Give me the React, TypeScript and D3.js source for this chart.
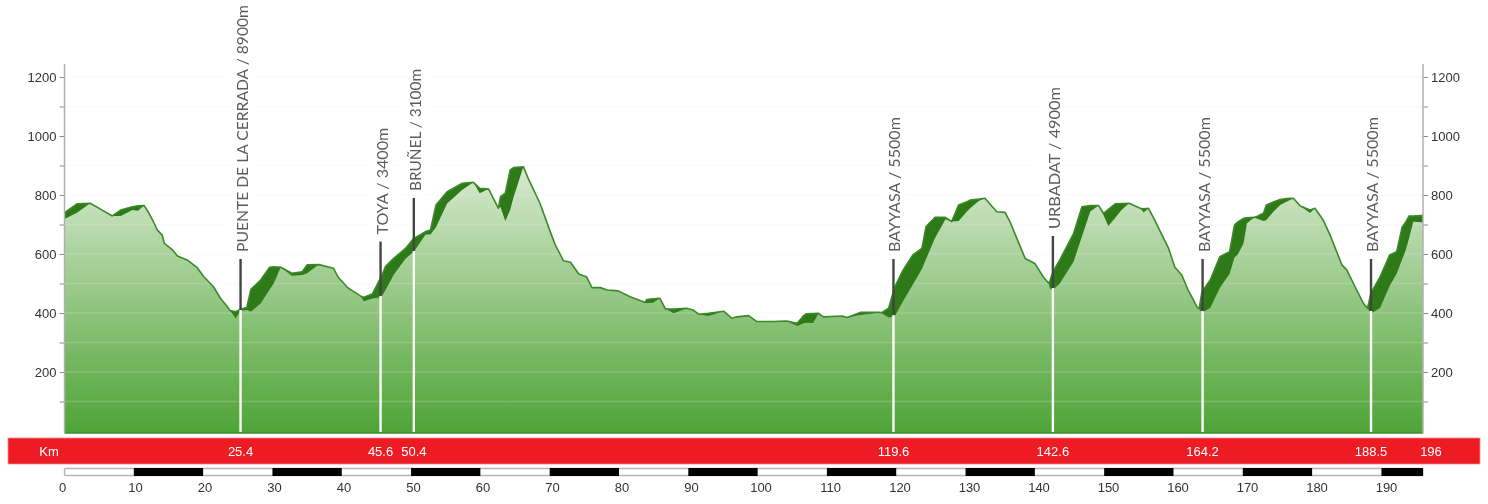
import React, { useEffect, useRef } from 'react';
import * as d3 from 'd3';

// profile: km, elevation (m), depth of the dark climb band (m)
const profileKm = [0, 1.8, 3.7, 5.2, 6.9, 8.1, 9.8, 10.6, 11.5, 12.2, 12.9, 13.4, 14.1, 14.4, 15.5, 16.3, 17.7, 19.1, 20.1, 21.5, 22.5, 23.5, 23.9, 24.7, 25.4, 26.3, 26.9, 28.3, 29.6, 30.2, 31.2, 32.8, 34.3, 35.0, 36.7, 38.8, 39.5, 40.8, 42.7, 43.2, 44.4, 45.7, 46.3, 47.5, 49.2, 50.4, 52.1, 52.8, 53.6, 55.2, 57.4, 59.0, 59.9, 61.2, 62.6, 62.9, 63.6, 64.3, 64.8, 66.2, 67.0, 68.6, 70.0, 70.8, 72.0, 73.0, 74.2, 75.3, 76.1, 77.3, 78.3, 79.9, 81.6, 83.8, 84.0, 84.9, 85.9, 86.7, 87.9, 89.8, 90.7, 91.5, 92.9, 95.1, 96.3, 97.0, 98.7, 99.9, 102.3, 104.2, 105.7, 106.6, 107.0, 108.0, 108.8, 109.5, 112.2, 112.9, 114.8, 117.7, 117.9, 118.9, 119.8, 121.0, 122.4, 123.7, 124.3, 125.6, 127.1, 128.0, 129.0, 130.2, 130.7, 131.9, 132.8, 134.5, 135.7, 136.4, 137.4, 138.6, 140.0, 141.2, 142.0, 142.2, 142.6, 143.6, 145.6, 146.8, 148.0, 149.2, 149.9, 150.6, 151.6, 152.5, 153.6, 155.2, 155.7, 156.4, 157.3, 158.1, 159.3, 160.2, 161.2, 162.1, 163.4, 163.7, 164.1, 165.3, 166.7, 168.1, 168.8, 169.3, 170.1, 170.6, 171.6, 172.2, 173.0, 173.4, 174.4, 175.4, 176.3, 177.3, 178.3, 179.7, 180.4, 181.6, 182.6, 184.3, 185.0, 186.2, 187.4, 188.0, 188.5, 189.8, 191.2, 192.2, 193.0, 193.5, 194.0, 194.6, 196];
const elevation = [740, 770, 772, 752, 729, 749, 760, 763, 764, 738, 706, 681, 664, 636, 616, 593, 580, 555, 523, 489, 450, 421, 408, 404, 413, 419, 480, 512, 555, 557, 555, 535, 540, 563, 564, 552, 521, 487, 458, 453, 464, 523, 557, 585, 619, 653, 676, 681, 766, 811, 840, 843, 823, 820, 755, 794, 806, 885, 893, 896, 851, 772, 681, 631, 577, 572, 532, 523, 486, 486, 478, 475, 455, 436, 446, 448, 450, 414, 413, 416, 410, 396, 399, 406, 382, 387, 391, 371, 371, 373, 365, 390, 397, 398, 399, 387, 390, 385, 402, 402, 401, 416, 489, 546, 597, 619, 693, 724, 724, 710, 766, 777, 783, 786, 789, 743, 741, 710, 653, 585, 568, 523, 501, 511, 539, 580, 670, 760, 764, 764, 738, 751, 770, 771, 772, 755, 753, 755, 715, 676, 619, 555, 529, 478, 421, 414, 471, 512, 591, 608, 698, 709, 721, 723, 724, 729, 739, 766, 776, 785, 788, 789, 763, 749, 755, 715, 664, 563, 546, 489, 433, 416, 468, 522, 597, 608, 692, 708, 729, 729, 731];
const bandDepth = [21, 30, 0, 0, 0, 20, 11, 16, 0, 0, 0, 0, 0, 0, 0, 0, 0, 0, 0, 0, 0, 0, 0, 22, 5, 9, 75, 80, 75, 56, 0, 9, 11, 28, 0, 0, 0, 0, 0, 13, 15, 70, 80, 55, 35, 45, 10, 15, 75, 40, 22, 0, 17, 0, 0, 35, 94, 136, 100, 0, 0, 0, 0, 0, 0, 0, 0, 0, 0, 0, 0, 0, 0, 0, 12, 13, 0, 0, 14, 0, 0, 0, 9, 0, 0, 0, 0, 0, 0, 0, 9, 25, 30, 32, 0, 0, 0, 0, 9, 0, 2, 31, 100, 105, 100, 70, 110, 70, 6, 0, 54, 33, 27, 6, 0, 0, 0, 0, 0, 0, 0, 0, 0, 30, 60, 80, 95, 100, 20, 0, 6, 56, 47, 22, 0, 0, 12, 0, 0, 0, 0, 0, 0, 0, 0, 0, 70, 95, 105, 75, 110, 110, 85, 19, 0, 10, 27, 51, 33, 19, 11, 0, 0, 10, 0, 0, 0, 0, 0, 0, 0, 0, 70, 105, 105, 75, 110, 95, 75, 20, 23];

const markerKm = [25.4, 45.6, 50.4, 119.6, 142.6, 164.2, 188.5];
const markerNames = ['PUENTE DE LA CERRADA / 8900m', 'TOYA / 3400m', 'BRUÑEL / 3100m', 'BAYYASA / 5500m', 'URBADAT / 4900m', 'BAYYASA / 5500m', 'BAYYASA / 5500m'];
const markerTop = [583, 642, 790, 583, 661, 583, 583];
const markerBase = [410, 458, 610, 393, 485, 407, 407];
const markerTextLength = [247, 107, 122, 135, 142, 135, 135];

const yTicks = [100, 200, 300, 400, 500, 600, 700, 800, 900, 1000, 1100, 1200];
const kmTicks = [0, 10, 20, 30, 40, 50, 60, 70, 80, 90, 100, 110, 120, 130, 140, 150, 160, 170, 180, 190];
const blackStretches = [[10, 20], [30, 40], [50, 60], [70, 80], [90, 100], [110, 120], [130, 140], [150, 160], [170, 180], [190, 196]];
const totalKm = 196;

const App = () => {
  const svgRef = useRef<SVGSVGElement | null>(null);

  useEffect(() => {
    if (!svgRef.current) return;
    const svg = d3.select(svgRef.current);
    svg.selectAll('*').remove();

    const plotTop = 64;
    const plotBottom = 433;
    const x = d3.scaleLinear().domain([0, totalKm]).range([64.5, 1423]);
    const y = d3.scaleLinear().domain([0, 1200]).range([431, 77]);
    const points = profileKm.map((km, i) => ({ km, ele: elevation[i], depth: bandDepth[i] }));

    const defs = svg.append('defs');
    const grad = defs.append('linearGradient')
      .attr('id', 'fillGrad')
      .attr('gradientUnits', 'userSpaceOnUse')
      .attr('x1', 0).attr('x2', 0)
      .attr('y1', 165).attr('y2', plotBottom);
    grad.append('stop').attr('offset', '0%').attr('stop-color', '#d9ead1');
    grad.append('stop').attr('offset', '100%').attr('stop-color', '#4ea436');

    // area under the profile
    const area = d3.area<any>().x(d => x(d.km)).y0(plotBottom).y1(d => y(d.ele));
    svg.append('path').datum(points).attr('d', area).attr('fill', 'url(#fillGrad)');

    // faint grid, shows as light stripes over the fill
    svg.append('g').selectAll('line').data(yTicks).enter().append('line')
      .attr('x1', x(0)).attr('x2', x(totalKm))
      .attr('y1', d => y(d)).attr('y2', d => y(d))
      .attr('stroke', '#eeeeee').attr('stroke-opacity', 0.22).attr('stroke-width', 1.5);

    // dark climb band under the profile line
    const band = d3.area<any>().x(d => x(d.km)).y0(d => y(d.ele - d.depth)).y1(d => y(d.ele));
    svg.append('path').datum(points).attr('d', band).attr('fill', '#2e7a18');

    const line = d3.line<any>().x(d => x(d.km)).y(d => y(d.ele));
    svg.append('path').datum(points).attr('d', line)
      .attr('fill', 'none').attr('stroke', '#3b8a2a').attr('stroke-width', 1.6).attr('stroke-linejoin', 'round');

    svg.append('line')
      .attr('x1', x(0)).attr('x2', x(totalKm))
      .attr('y1', plotBottom).attr('y2', plotBottom)
      .attr('stroke', '#3f8f2c').attr('stroke-width', 1.5);

    // axes on both sides
    const fmt = (d: any) => (d % 200 === 0 ? String(d) : '');
    const leftAxis = svg.append('g').attr('transform', `translate(${x(0)},0)`)
      .call(d3.axisLeft(y).tickValues(yTicks).tickSize(5).tickPadding(3).tickFormat(fmt) as any);
    const rightAxis = svg.append('g').attr('transform', `translate(${x(totalKm)},0)`)
      .call(d3.axisRight(y).tickValues(yTicks).tickSize(5).tickPadding(3).tickFormat(fmt) as any);
    [leftAxis, rightAxis].forEach(a => {
      a.select('.domain').remove();
      a.selectAll('.tick line').attr('stroke', '#8a8a8a');
      a.selectAll('text').attr('font-family', '"Liberation Sans", Arial, sans-serif').attr('font-size', 13).attr('fill', '#333');
      a.append('line').attr('y1', plotTop).attr('y2', plotBottom).attr('stroke', '#b0b0b0').attr('stroke-width', 1.5);
    });

    // markers
    const markers = markerKm.map((km, i) => ({ km, name: markerNames[i], top: markerTop[i], base: markerBase[i], len: markerTextLength[i] }));
    const m = svg.append('g');
    m.selectAll('.stem').data(markers).enter().append('line')
      .attr('x1', d => x(d.km)).attr('x2', d => x(d.km))
      .attr('y1', plotBottom - 1).attr('y2', d => y(d.base))
      .attr('stroke', '#fff').attr('stroke-width', 2.4);
    m.selectAll('.pole').data(markers).enter().append('line')
      .attr('x1', d => x(d.km)).attr('x2', d => x(d.km))
      .attr('y1', d => y(d.base)).attr('y2', d => y(d.top))
      .attr('stroke', '#444').attr('stroke-width', 2.4);
    m.selectAll('.name').data(markers).enter().append('text')
      .attr('transform', d => `translate(${x(d.km) + 7},${y(d.top) - 7}) rotate(-90)`)
      .attr('font-family', 'Lato, sans-serif')
      .attr('font-size', 15.5)
      .attr('textLength', d => d.len)
      .attr('lengthAdjust', 'spacingAndGlyphs')
      .attr('fill', '#5c5c5c')
      .attr('stroke', '#fff').attr('stroke-width', 10).attr('paint-order', 'stroke')
      .text(d => d.name);

    // red km strip
    svg.append('rect')
      .attr('x', 8).attr('y', 438).attr('width', 1472).attr('height', 26)
      .attr('fill', '#ed1c24').attr('stroke', '#f58a8e').attr('stroke-width', 0.8);
    const stripFont = '"Liberation Sans", Arial, sans-serif';
    const stripLabels = [...markerKm.map(km => ({ at: x(km), txt: String(km) })), { at: 1431, txt: String(totalKm) }, { at: 49, txt: 'Km' }];
    svg.append('g').selectAll('text').data(stripLabels).enter().append('text')
      .attr('x', d => d.at).attr('y', 456)
      .attr('text-anchor', 'middle')
      .attr('font-family', stripFont).attr('font-size', 13).attr('fill', '#fff')
      .text(d => d.txt);

    // distance scale bar
    svg.append('rect')
      .attr('x', x(0)).attr('y', 468.5).attr('width', x(totalKm) - x(0)).attr('height', 7)
      .attr('fill', '#fff').attr('stroke', '#b5b5b5').attr('stroke-width', 1.4).attr('rx', 1);
    svg.append('g').selectAll('rect').data(blackStretches).enter().append('rect')
      .attr('x', d => x(d[0])).attr('y', 468)
      .attr('width', d => x(d[1]) - x(d[0])).attr('height', 8)
      .attr('fill', '#000');

    // labels drift a little from the bar in the source
    const kmLabelX = d3.scaleLinear().domain([0, 10, 190]).range([62, 135, 1386]);
    const bottomAxis = svg.append('g').attr('transform', 'translate(0,479)')
      .call(d3.axisBottom(kmLabelX).tickValues(kmTicks).tickSize(0).tickPadding(4).tickFormat(d => String(d)) as any);
    bottomAxis.select('.domain').remove();
    bottomAxis.selectAll('text').attr('font-family', stripFont).attr('font-size', 13).attr('fill', '#333');
  }, []);

  // source picture is a soft upscale, a small blur sits closer to it
  return <svg ref={svgRef} width={1488} height={504} style={{ position: 'absolute', left: 0, top: 0, background: '#fff', filter: 'blur(0.45px)' }}></svg>;
};

export default App;
